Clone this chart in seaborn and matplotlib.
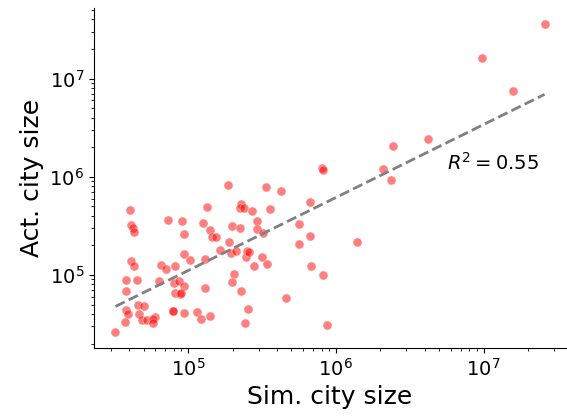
import numpy as np
import pandas as pd
import matplotlib
matplotlib.use("Agg")
import matplotlib.pyplot as plt
import seaborn as sns

sim_size = [
    4.05e4, 4.09e4, 4.26e4, 4.28e4, 4.13e4, 4.28e4, 3.80e4, 4.49e4, 3.80e4, 4.54e4,
    5.06e4, 3.82e4, 3.91e4, 4.66e4, 4.90e4, 5.24e4, 5.95e4, 5.79e4, 5.82e4, 3.72e4,
    3.22e4, 6.51e4, 7.13e4, 8.17e4, 6.39e4, 8.04e4, 8.72e4, 9.35e4, 8.19e4, 8.76e4,
    8.97e4, 7.85e4, 7.95e4, 9.44e4, 1.147e5, 1.225e5, 1.398e5, 1.310e5, 7.34e4, 9.06e4,
    9.43e4, 9.40e4, 1.036e5, 1.298e5, 1.264e5, 1.339e5, 1.403e5, 1.458e5, 1.543e5, 1.647e5,
    1.875e5, 1.904e5, 1.977e5, 1.952e5, 2.121e5, 2.040e5, 1.986e5, 2.296e5, 2.293e5, 2.250e5,
    2.406e5, 2.257e5, 2.705e5, 2.934e5, 2.943e5, 3.196e5, 2.471e5, 2.510e5, 2.581e5, 3.186e5,
    2.799e5, 3.418e5, 2.561e5, 2.440e5, 3.359e5, 3.609e5, 4.244e5, 4.610e5, 5.603e5, 5.664e5,
    6.734e5, 6.723e5, 6.776e5, 8.123e5, 8.737e5, 8.022e5, 8.123e5, 1.395e6, 2.070e6, 2.345e6,
    2.446e6, 4.222e6, 9.754e6, 1.572e7, 2.589e7,
]
act_size = [
    4.602e5, 3.203e5, 3.042e5, 2.752e5, 1.387e5, 1.243e5, 8.81e4, 8.81e4, 6.93e4, 4.99e4,
    4.80e4, 4.41e4, 4.03e4, 3.98e4, 3.49e4, 3.50e4, 3.69e4, 3.56e4, 3.24e4, 3.33e4,
    2.61e4, 1.264e5, 1.145e5, 1.237e5, 8.69e4, 8.31e4, 8.69e4, 7.68e4, 6.52e4, 6.39e4,
    6.58e4, 4.32e4, 4.32e4, 4.08e4, 4.22e4, 3.60e4, 3.84e4, 7.35e4, 3.600e5, 3.584e5,
    2.595e5, 1.637e5, 1.430e5, 1.471e5, 3.396e5, 4.901e5, 2.863e5, 2.430e5, 2.408e5, 1.794e5,
    8.258e5, 2.163e5, 3.144e5, 1.657e5, 1.745e5, 1.031e5, 8.45e4, 6.90e4, 5.258e5, 4.788e5,
    4.856e5, 3.007e5, 4.527e5, 3.575e5, 2.931e5, 2.676e5, 1.526e5, 1.765e5, 1.704e5, 1.509e5,
    1.243e5, 1.281e5, 4.53e4, 3.28e4, 7.934e5, 4.679e5, 7.175e5, 5.84e4, 3.302e5, 2.078e5,
    5.523e5, 2.506e5, 1.243e5, 9.91e4, 3.09e4, 1.223e6, 1.172e6, 2.178e5, 1.200e6, 9.215e5,
    2.040e6, 2.448e6, 1.634e7, 7.431e6, 3.617e7,
]
x_label = "Sim. city size"
y_label = "Act. city size"
r2_label = r"$R^2 = 0.55$"

df = pd.DataFrame({"sim": sim_size, "act": act_size})

sns.set_style("ticks")
plt.rcParams["font.family"] = ["DejaVu Sans"]
plt.rcParams.update({
    "axes.edgecolor": "black",
    "axes.labelcolor": "black",
    "text.color": "black",
    "xtick.color": "black",
    "ytick.color": "black",
})

fig = plt.figure(figsize=(5.67, 4.17), dpi=100)
ax = fig.add_axes([0.1658, 0.1662, 0.8325, 0.8139])

sns.scatterplot(data=df, x="sim", y="act", color="red", alpha=0.5, s=42,
                edgecolor="white", linewidth=0.5, ax=ax)

# log-log linear fit
lx = np.log10(df["sim"].values)
ly = np.log10(df["act"].values)
slope, intercept = np.polyfit(lx, ly, 1)
xs = np.linspace(lx.min(), lx.max(), 50)
ax.plot(10 ** xs, 10 ** (intercept + slope * xs), color="grey", ls="--", lw=2)

ax.set_xscale("log")
ax.set_yscale("log")
ax.set_xlabel(x_label, fontsize=18)
ax.set_ylabel(y_label, fontsize=18)
ax.tick_params(axis="both", which="major", labelsize=14)
ax.text(0.748, 0.5236, r2_label, transform=ax.transAxes, fontsize=14,
        ha="left", va="baseline")
sns.despine(ax=ax)

fig.savefig("out.png", dpi=100)
